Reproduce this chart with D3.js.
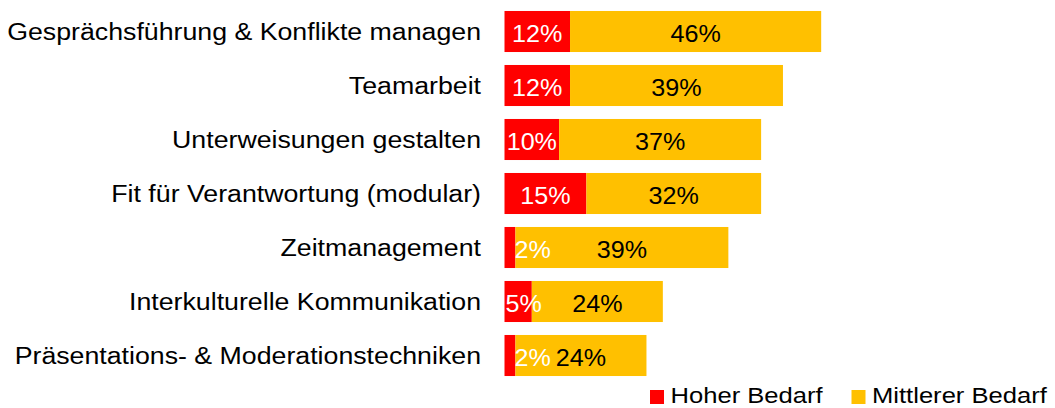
<!DOCTYPE html>
<html>
<head>
<meta charset="utf-8">
<script src="https://cdn.jsdelivr.net/npm/d3@7"></script>
<style>
  html, body { margin: 0; padding: 0; background: #fff; }
  svg { display: block; font-family: "Liberation Sans", Arial, sans-serif; }
</style>
</head>
<body>
<svg id="chart" width="1055" height="408"></svg>
<script>
// Training topics and the share of respondents reporting high / medium need (%)
const categories = [
  "Gesprächsführung & Konflikte managen",
  "Teamarbeit",
  "Unterweisungen gestalten",
  "Fit für Verantwortung (modular)",
  "Zeitmanagement",
  "Interkulturelle Kommunikation",
  "Präsentations- & Moderationstechniken"
];
const hoherBedarf     = [12, 12, 10, 15, 2, 5, 2];
const mittlererBedarf = [46, 39, 37, 32, 39, 24, 24];
const seriesNames  = ["Hoher Bedarf", "Mittlerer Bedarf"];
const seriesColors = ["#ff0000", "#ffc000"];

const svg = d3.select("#chart");

const rows = categories.map((c, i) => ({
  category: c,
  "Hoher Bedarf": hoherBedarf[i],
  "Mittlerer Bedarf": mittlererBedarf[i]
}));
const stacked = d3.stack().keys(seriesNames)(rows);

const y = d3.scaleBand()
  .domain(categories)
  .range([4.5, 382.5])
  .paddingInner(0.24)
  .paddingOuter(0.12);

const x = d3.scaleLinear()
  .domain([0, 100])
  .range([504.5, 504.5 + 546]);

const color = d3.scaleOrdinal().domain(seriesNames).range(seriesColors);

// Category labels, right-aligned next to the bars
const catScaleX = 1.10;
svg.append("g")
  .selectAll("text")
  .data(categories)
  .join("text")
  .attr("transform", d => `translate(481,${y(d) + y.bandwidth() / 2 + 8}) scale(${catScaleX},1)`)
  .attr("text-anchor", "end")
  .attr("font-size", 24.3)
  .attr("fill", "#000")
  .text(d => d);

// Stacked bar segments
const layers = svg.append("g")
  .selectAll("g")
  .data(stacked)
  .join("g")
  .attr("fill", d => color(d.key));

layers.selectAll("rect")
  .data(d => d)
  .join("rect")
  .attr("x", d => x(d[0]))
  .attr("y", d => y(d.data.category))
  .attr("width", d => x(d[1]) - x(d[0]))
  .attr("height", y.bandwidth());

// Value labels inside the segments
const valScaleX = 1.07;
const valSize = 23.5;
const labelGroups = svg.append("g")
  .selectAll("g")
  .data(stacked)
  .join("g")
  .attr("fill", (d, i) => i === 0 ? "#fff" : "#000");

labelGroups.selectAll("text")
  .data(d => d)
  .join("text")
  .attr("font-size", valSize)
  .text(d => `${d[1] - d[0]}%`)
  .each(function (d) {
    const t = d3.select(this);
    const tw = this.getComputedTextLength() * valScaleX;
    const x0 = x(d[0]), x1 = x(d[1]), w = x1 - x0;
    const cy = y(d.data.category) + y.bandwidth() / 2 + 10;
    let anchor = "middle", lx = (x0 + x1) / 2;
    if (w < tw / 2) { anchor = "start"; lx = x1 - 1; }
    else if (w < tw) { lx = Math.max(lx, x0 + tw / 2 + 1); }
    t.attr("text-anchor", anchor)
     .attr("transform", `translate(${lx},${cy}) scale(${valScaleX},1)`);
  });

// Legend
const legScaleX = 1.19;
const legend = svg.append("g")
  .selectAll("g")
  .data(seriesNames)
  .join("g")
  .attr("transform", (d, i) => `translate(${i === 0 ? 650 : 851.5},390)`);

legend.append("rect")
  .attr("width", 14)
  .attr("height", 14)
  .attr("fill", d => color(d));

legend.append("text")
  .attr("transform", `translate(20.5,13) scale(${legScaleX},1)`)
  .attr("font-size", 21.5)
  .attr("fill", "#000")
  .text(d => d);
</script>
</body>
</html>
